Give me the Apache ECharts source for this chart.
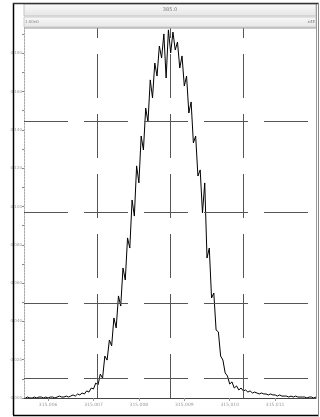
<!DOCTYPE html>
<html><head><meta charset="utf-8">
<script src="https://cdn.jsdelivr.net/npm/echarts@6/dist/echarts.min.js"></script>
<style>html,body{margin:0;padding:0;background:#fff}#c{width:320px;height:417px}</style>
</head><body><div id="c"></div>
<script>
// x sample positions (m/z)
var xs = [315.00550,315.00555,315.00560,315.00565,315.00570,315.00575,315.00580,315.00585,315.00590,315.00595,
315.00600,315.00605,315.00610,315.00615,315.00620,315.00625,315.00630,315.00635,315.00640,315.00645,
315.00650,315.00655,315.00660,315.00665,315.00670,315.00675,315.00680,315.00685,315.00690,315.00695,
315.00700,315.00705,315.00710,315.00715,315.00720,315.00725,315.00730,315.00735,315.00740,315.00745,
315.00750,315.00755,315.00760,315.00765,315.00770,315.00775,315.00780,315.00785,315.00790,315.00795,
315.00800,315.00805,315.00810,315.00815,315.00820,315.00825,315.00830,315.00835,315.00840,315.00845,
315.00850,315.00855,315.00860,315.00865,315.00870,315.00875,315.00880,315.00885,315.00890,315.00895,
315.00900,315.00905,315.00910,315.00915,315.00920,315.00925,315.00930,315.00935,315.00940,315.00945,
315.00950,315.00955,315.00960,315.00965,315.00970,315.00975,315.00980,315.00985,315.00990,315.00995,
315.01000,315.01005,315.01010,315.01015,315.01020,315.01025,315.01030,315.01035,315.01040,315.01045,
315.01050,315.01055,315.01060,315.01065,315.01070,315.01075,315.01080,315.01085,315.01090,315.01095,
315.01100,315.01105,315.01110,315.01115,315.01120,315.01125,315.01130,315.01135,315.01140,315.01145,
315.01150,315.01155,315.01160,315.01165,315.01170,315.01175,315.01180,315.01185,315.01190];
// intensity values
var ys = [0,0.0005,0,0,0.0005,0,0.0005,0.0005,0,0.0005,
0,0.0005,0.0005,0,0.0005,0.0010,0.0005,0.0005,0.0010,0.0005,
0.0010,0.0016,0.0010,0.0021,0.0016,0.0026,0.0021,0.0037,0.0031,0.0052,
0.0047,0.0078,0.0068,0.0125,0.0104,0.0219,0.0198,0.0303,0.0272,0.0418,
0.0366,0.0533,0.0480,0.0679,0.0616,0.0836,0.0783,0.1034,0.0950,0.1212,
0.1123,0.1368,0.1295,0.1514,0.1441,0.1661,0.1567,0.1749,0.1681,0.1838,
0.1775,0.1901,0.1671,0.1922,0.1802,0.1911,0.1817,0.1859,0.1723,0.1786,
0.1629,0.1681,0.1488,0.1546,0.1332,0.1368,0.1159,0.1191,0.0966,0.1123,
0.0731,0.0783,0.0522,0.0548,0.0355,0.0345,0.0219,0.0198,0.0131,0.0115,
0.0073,0.0084,0.0052,0.0063,0.0042,0.0052,0.0037,0.0042,0.0031,0.0037,
0.0026,0.0031,0.0026,0.0021,0.0026,0.0021,0.0021,0.0016,0.0021,0.0016,
0.0016,0.0010,0.0016,0.0010,0.0010,0.0010,0.0005,0.0010,0.0005,0.0010,
0.0005,0.0005,0.0005,0.0005,0,0.0005,0.0005,0,0.0005];
var xTickLabels = [315.006,315.007,315.008,315.009,315.010,315.011];
var yTickLabels = [0,0.02,0.04,0.06,0.08,0.10,0.12,0.14,0.16,0.18];
var yMinorTicks = [0,0.01,0.02,0.03,0.04,0.05,0.06,0.07,0.08,0.09,0.10,0.11,0.12,0.13,0.14,0.15,0.16,0.17,0.18,0.19];
var vMarkers = [315.007079,315.008687,315.010295];
var hMarkers = [0.14465,0.09713,0.04961,0.01044];
var titleText = '385.0', subLeft = '1.00e0', subRight = 'x4E';

var data = xs.map(function(x,i){return [x, ys[i]];});
var marks = vMarkers.map(function(v){return {xAxis:v};}).concat(hMarkers.map(function(v){return {yAxis:v};}));

var chart = echarts.init(document.getElementById('c'), null, {renderer:'canvas'});
chart.setOption({
  animation:false,
  backgroundColor:'#fff',
  grid:{left:24, top:28, right:4, bottom:19, containLabel:false, outerBoundsMode:'none', show:true, backgroundColor:'#fff', borderColor:'#aaa', borderWidth:0},
  xAxis:{type:'value', min:315.00547, max:315.01190,
    axisLine:{show:true, lineStyle:{color:'#444', width:1}},
    axisTick:{show:true, length:3, customValues:xTickLabels, lineStyle:{color:'#999'}},
    axisLabel:{customValues:xTickLabels, formatter:function(v){return v.toFixed(3);}, fontSize:4.5, color:'#999', margin:4, fontFamily:'DejaVu Sans'},
    splitLine:{show:false}},
  yAxis:{type:'value', min:0, max:0.1932,
    axisLine:{show:true, lineStyle:{color:'#aaa', width:1, type:[2,1]}},
    axisTick:{show:true, length:2, customValues:yMinorTicks, lineStyle:{color:'#888'}},
    axisLabel:{customValues:yTickLabels, formatter:function(v){return v.toFixed(3);}, fontSize:4, color:'#999', margin:2, fontFamily:'DejaVu Sans'},
    splitLine:{show:false}},
  series:[{type:'line', data:data, showSymbol:false, symbol:'none',
    lineStyle:{color:'#000', width:1}, z:3,
    markLine:{silent:true, symbol:'none', precision:8, label:{show:false},
      lineStyle:{color:'#555', width:1, type:[44,16]}, data:marks}}],
  graphic:[
    {type:'rect', shape:{x:24,y:4,width:292,height:12}, style:{fill:{type:'linear',x:0,y:0,x2:0,y2:1,colorStops:[{offset:0,color:'#fbfbfb'},{offset:1,color:'#e4e4e4'}]}, stroke:'#c4c4c4', lineWidth:1}, z:10},
    {type:'rect', shape:{x:24,y:17,width:292,height:10}, style:{fill:{type:'linear',x:0,y:0,x2:0,y2:1,colorStops:[{offset:0,color:'#f9f9f9'},{offset:1,color:'#e6e6e6'}]}, stroke:'#cccccc', lineWidth:1}, z:10},
    {type:'text', x:170, y:10, style:{text:titleText, fontSize:5, fill:'#777', align:'center', verticalAlign:'middle', fontFamily:'DejaVu Sans'}, z:11},
    {type:'text', x:25, y:22, style:{text:subLeft, fontSize:4, fill:'#888', align:'left', verticalAlign:'middle', fontFamily:'DejaVu Sans'}, z:11},
    {type:'text', x:315, y:22, style:{text:subRight, fontSize:4, fill:'#777', align:'right', verticalAlign:'middle', fontFamily:'DejaVu Sans'}, z:11},
    {type:'line', shape:{x1:24,y1:28,x2:316,y2:28}, style:{stroke:'#999', lineWidth:1}, z:10},
    {type:'line', shape:{x1:316.5,y1:4,x2:316.5,y2:398}, style:{stroke:'#999', lineWidth:1}, z:10},
    {type:'line', shape:{x1:13.5,y1:3,x2:13.5,y2:415}, style:{stroke:'#000', lineWidth:1.5}, z:10},
    {type:'line', shape:{x1:13,y1:3.5,x2:319,y2:3.5}, style:{stroke:'#333', lineWidth:1.5}, z:10},
    {type:'line', shape:{x1:13,y1:415.5,x2:319,y2:415.5}, style:{stroke:'#000', lineWidth:1.5}, z:10},
    {type:'line', shape:{x1:318.5,y1:3,x2:318.5,y2:416}, style:{stroke:'#888', lineWidth:1}, z:10}
  ]
});
</script></body></html>
